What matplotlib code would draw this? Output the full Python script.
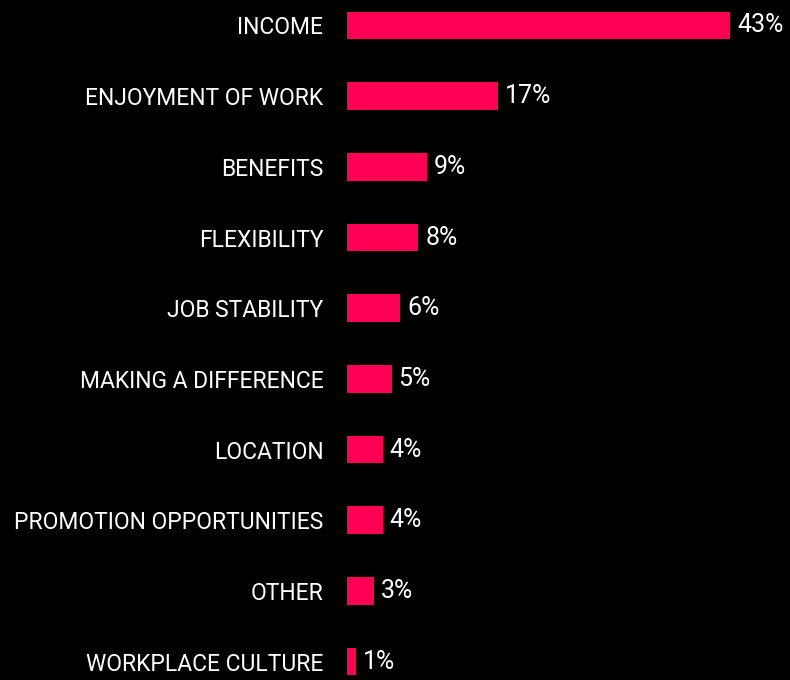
import matplotlib
matplotlib.use("Agg")
import matplotlib.pyplot as plt
from matplotlib import font_manager

categories = ["INCOME", "ENJOYMENT OF WORK", "BENEFITS", "FLEXIBILITY",
              "JOB STABILITY", "MAKING A DIFFERENCE", "LOCATION",
              "PROMOTION OPPORTUNITIES", "OTHER", "WORKPLACE CULTURE"]
shares = [43, 17, 9, 8, 6, 5, 4, 4, 3, 1]
value_labels = ["43%", "17%", "9%", "8%", "6%", "5%", "4%", "4%", "3%", "1%"]

# prefer a narrow face if one is around
names = {f.name for f in font_manager.fontManager.ttflist}
families = [f for f in ["Liberation Sans Narrow", "Roboto", "DejaVu Sans"] if f in names]
plt.rcParams["font.family"] = families

bar_color = "#ff0055"

fig = plt.figure(figsize=(7.9, 6.8), dpi=100, facecolor="black")
ax = fig.add_axes([347 / 790, 0, 1 - 347 / 790, 1])
ax.set_facecolor("black")

ypos = list(range(len(categories)))
ax.barh(ypos, shares, height=0.39, color=bar_color)

for y, v, lab in zip(ypos, shares, value_labels):
    ax.annotate(lab, (v, y), xytext=(5, 0), textcoords="offset points",
                va="center", ha="left", color="white", fontsize=18)

ax.set_xlim(0, 43 * 443 / 383)
ax.set_ylim(9.26, -0.36)
ax.set_yticks(ypos)
ax.set_yticklabels(categories, color="white", fontsize=16.5)
ax.tick_params(axis="y", length=0, pad=17)
ax.set_xticks([])
for s in ax.spines.values():
    s.set_visible(False)

fig.savefig("out.png", dpi=100, facecolor="black")
